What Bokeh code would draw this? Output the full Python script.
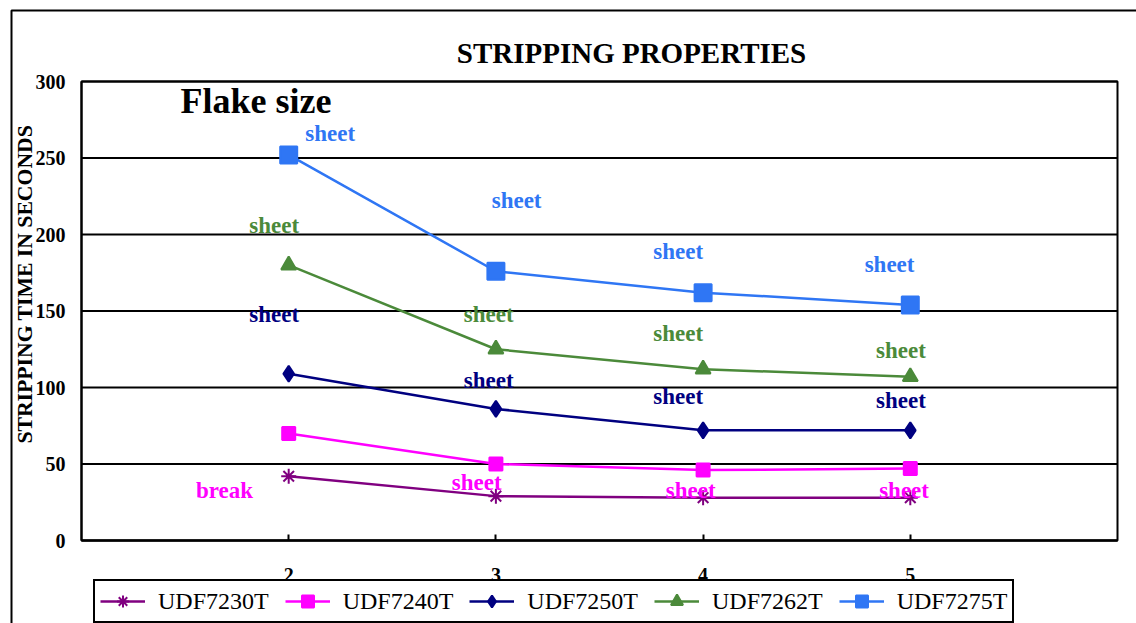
from bokeh.plotting import figure
from bokeh.models import (Range1d, FixedTicker, Label, Legend, LegendItem,
                          ColumnDataSource, LabelSet, BoxAnnotation)
from bokeh.embed import file_html
from bokeh.resources import INLINE
from math import pi

# ---------------- data ----------------
x_vals = [2, 3, 4, 5]
series_names = ["UDF7230T", "UDF7240T", "UDF7250T", "UDF7262T", "UDF7275T"]
udf7230t = [42, 29, 28, 28]
udf7240t = [70, 50, 46, 47]
udf7250t = [109, 86, 72, 72]
udf7262t = [180, 125, 112, 107]
udf7275t = [252, 176, 162, 154]
y_ticks = [0, 50, 100, 150, 200, 250, 300]

# annotation texts (with their data-space anchor points)
notes_7275_text = ["sheet", "sheet", "sheet", "sheet"]
notes_7275_x = [2.20, 3.10, 3.88, 4.90]
notes_7275_y = [260.8, 217.6, 183.7, 175.8]
notes_7262_text = ["sheet", "sheet", "sheet", "sheet"]
notes_7262_x = [1.93, 2.965, 3.88, 4.955]
notes_7262_y = [201.3, 142.5, 130.1, 119.6]
notes_7250_text = ["sheet", "sheet", "sheet", "sheet"]
notes_7250_x = [1.93, 2.965, 3.88, 4.955]
notes_7250_y = [142.5, 100.0, 88.9, 86.9]
notes_7240_text = ["break", "sheet", "sheet", "sheet"]
notes_7240_x = [1.69, 2.907, 3.94, 4.97]
notes_7240_y = [27.5, 32.7, 27.5, 27.5]

# ---------------- layout / styles ----------------
SERIF = "Liberation Serif"
C_PURPLE = "#800080"
C_MAGENTA = "#FF00FF"
C_NAVY = "#000080"
C_GREEN = "#4B8A3A"
C_BLUE = "#2F76F4"

W, H = 1136, 623
PL, PR, PT, PB = 81, 1117, 81, 540          # plot-area pixel box
X_LO, X_HI = 1, 6                            # category axis extent
Y_LO, Y_HI = 0, 300
sx = (PR - PL) / (X_HI - X_LO)
sy = (PB - PT) / (Y_HI - Y_LO)


def dx(px):
    return X_LO + (px - PL) / sx


def dy(py):
    return Y_LO + (PB - py) / sy


p = figure(width=W, height=H, output_backend="svg", toolbar_location=None,
           x_range=Range1d(dx(0), dx(W)), y_range=Range1d(dy(H), dy(0)),
           min_border_left=0, min_border_right=0, min_border_top=0,
           min_border_bottom=0, background_fill_color="white",
           border_fill_color="white")
p.outline_line_color = None
p.title.visible = False

# axes drawn at the plot-area edges
p.xaxis.fixed_location = Y_LO
p.yaxis.fixed_location = X_LO
p.xaxis.bounds = (X_LO, X_HI)
p.yaxis.bounds = (Y_LO, Y_HI)
p.xaxis.ticker = FixedTicker(ticks=x_vals)
p.yaxis.ticker = FixedTicker(ticks=y_ticks)
for ax in (p.xaxis, p.yaxis):
    ax.axis_line_color = "black"
    ax.axis_line_width = 2
    ax.major_label_text_font = SERIF
    ax.major_label_text_font_style = "bold"
    ax.major_label_text_font_size = "20px"
    ax.major_label_text_color = "black"
    ax.minor_tick_line_color = None
p.xaxis.major_tick_in = 6
p.xaxis.major_tick_out = 0
p.xaxis.major_tick_line_color = "black"
p.xaxis.major_tick_line_width = 2
p.xaxis.major_label_standoff = 27
p.yaxis.major_tick_in = 0
p.yaxis.major_tick_out = 0
p.yaxis.major_tick_line_color = None
p.yaxis.major_label_standoff = 16

p.xgrid.grid_line_color = None
p.ygrid.grid_line_color = None

# horizontal gridlines across the plot area, one per y tick
p.segment(x0=[X_LO] * len(y_ticks), x1=[X_HI] * len(y_ticks), y0=y_ticks,
          y1=y_ticks, line_color="black", line_width=2)

# outer chart border and plot-area border
p.add_layout(BoxAnnotation(left=dx(11), right=dx(W + 50), top=dy(10),
                           bottom=dy(H + 50), fill_color=None,
                           line_color="black", line_alpha=1.0, line_width=2))
p.add_layout(BoxAnnotation(left=X_LO, right=X_HI, top=Y_HI, bottom=Y_LO,
                           fill_color=None, line_color="black",
                           line_alpha=1.0, line_width=2))

# series
specs = [
    (udf7230t, C_PURPLE, "asterisk", 15),
    (udf7240t, C_MAGENTA, "square", 13),
    (udf7250t, C_NAVY, "diamond", 16),
    (udf7262t, C_GREEN, "triangle", 15),
    (udf7275t, C_BLUE, "square", 17),
]
items = []
for name, (vals, col, mk, sz) in zip(series_names, specs):
    lr = p.line(x_vals, vals, line_color=col, line_width=2.5)
    sr = p.scatter(x_vals, vals, marker=mk, size=sz, fill_color=col,
                   line_color=col, line_width=2)
    items.append(LegendItem(label=name, renderers=[lr, sr]))

legend = Legend(items=items, orientation="horizontal", location=(93, 0),
                glyph_width=45, glyph_height=30, label_standoff=13, spacing=16,
                padding=5, margin=0, label_text_font=SERIF,
                label_text_font_size="24px", label_text_color="black",
                border_line_color="black", border_line_alpha=1.0,
                border_line_width=2,
                background_fill_color="white", background_fill_alpha=1.0)
p.add_layout(legend, "center")

# annotations
for txt, xs, ys, col in [
    (notes_7275_text, notes_7275_x, notes_7275_y, C_BLUE),
    (notes_7262_text, notes_7262_x, notes_7262_y, C_GREEN),
    (notes_7250_text, notes_7250_x, notes_7250_y, C_NAVY),
    (notes_7240_text, notes_7240_x, notes_7240_y, C_MAGENTA),
]:
    src = ColumnDataSource(dict(x=xs, y=ys, t=txt))
    p.add_layout(LabelSet(x="x", y="y", text="t", source=src,
                          text_align="center", text_baseline="alphabetic",
                          text_font=SERIF, text_font_style="bold",
                          text_font_size="23px", text_color=col))

p.add_layout(Label(x=dx(180), y=dy(100), text="Flake size", text_font=SERIF,
                   text_font_style="bold", text_font_size="36px",
                   text_color="black", text_align="left",
                   text_baseline="alphabetic"))

# chart title
p.add_layout(Label(x=dx(631), y=dy(52), text="STRIPPING PROPERTIES",
                   text_font=SERIF, text_font_style="bold",
                   text_font_size="29px", text_color="black",
                   text_align="center", text_baseline="alphabetic"))

# value-axis title
p.add_layout(Label(x=dx(24), y=dy(281), text="STRIPPING TIME  IN SECONDS",
                   angle=pi / 2, text_font=SERIF, text_font_style="bold",
                   text_font_size="21.7px", text_color="black",
                   text_align="center", text_baseline="middle"))

open("out.html", "w").write(file_html(p, INLINE))
